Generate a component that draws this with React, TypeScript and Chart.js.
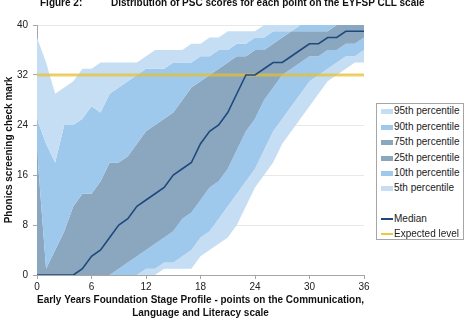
import React, { useEffect, useRef } from "react";
import { Chart, registerables } from "chart.js";

Chart.register(...registerables);

// EYFSP CLL score points (x axis)
const scorePoints = [0, 1, 2, 3, 4, 5, 6, 7, 8, 9, 10, 11, 12, 13, 14, 15, 16, 17, 18, 19, 20, 21, 22, 23, 24, 25, 26, 27, 28, 29, 30, 31, 32, 33, 34, 35, 36];

// PSC mark percentiles at each score point
const p95 = [38, 34, 29, 30, 31, 33, 33, 34, 34, 34, 34, 34, 35, 36, 36, 36, 36, 37, 37, 38, 38, 39, 39, 39, 39, 40, 40, 40, 40, 40, 40, 40, 40, 40, 40, 40, 40];
const p90 = [25, 21, 18, 24, 24, 25, 27, 26, 29, 30, 31, 32, 33, 33, 33, 34, 34, 34, 35, 35, 36, 36, 37, 37, 38, 38, 39, 39, 39, 40, 40, 40, 40, 40, 40, 40, 40];
const p75 = [20, 1, 4, 7, 11, 13, 13, 15, 18, 18, 19, 21, 23, 24, 25, 26, 28, 30, 31, 32, 33, 34, 35, 35, 36, 36, 37, 38, 39, 39, 39, 39, 39, 40, 40, 40, 40];
const median = [0, 0, 0, 0, 0, 1, 3, 4, 6, 8, 9, 11, 12, 13, 14, 16, 17, 18, 21, 23, 24, 26, 29, 32, 32, 33, 34, 34, 35, 36, 37, 37, 38, 38, 39, 39, 39];
const p25 = [0, 0, 0, 0, 0, 0, 0, 0, 0, 1, 2, 3, 4, 5, 6, 7, 9, 10, 12, 14, 15, 17, 20, 23, 25, 28, 30, 32, 33, 34, 35, 35, 36, 36, 37, 37, 38];
const p10 = [0, 0, 0, 0, 0, 0, 0, 0, 0, 0, 0, 0, 1, 1, 2, 2, 3, 4, 6, 7, 9, 11, 13, 15, 17, 20, 23, 25, 27, 29, 31, 32, 33, 34, 35, 35, 36];
const p5 = [0, 0, 0, 0, 0, 0, 0, 0, 0, 0, 0, 0, 0, 0, 1, 1, 1, 1, 3, 4, 5, 6, 8, 11, 14, 16, 18, 21, 23, 25, 27, 29, 31, 32, 33, 34, 34];

const expectedLevel = 32;
const xTicks = [0, 6, 12, 18, 24, 30, 36];
const yTicks = [0, 8, 16, 24, 32, 40];

const LIGHT = "rgb(198,222,243)";
const MED = "rgb(158,201,236)";
const GREY = "rgb(139,167,192)";
const NAVY = "rgb(31,73,125)";
const GOLD = "rgba(232,192,40,0.7)";
const GOLD_SOLID = "rgb(236,200,70)";

const FONT = "'Liberation Sans', Arial, sans-serif";

const legendItems = [
  { label: "95th percentile", color: LIGHT, kind: "box" },
  { label: "90th percentile", color: MED, kind: "box" },
  { label: "75th percentile", color: GREY, kind: "box" },
  { label: "25th percentile", color: GREY, kind: "box" },
  { label: "10th percentile", color: MED, kind: "box" },
  { label: "5th percentile", color: LIGHT, kind: "box" },
  { label: "", color: "transparent", kind: "gap" },
  { label: "Median", color: NAVY, kind: "line" },
  { label: "Expected level", color: GOLD_SOLID, kind: "line" },
];

export default function App() {
  const ref = useRef<HTMLCanvasElement>(null);

  useEffect(() => {
    document.body.style.margin = "0";
    const canvas = ref.current;
    if (!canvas) return;
    const pts = (arr: number[]) => scorePoints.map((x, i) => ({ x, y: arr[i] }));
    const band = (label: string, arr: number[], color: string | null) => ({
      label,
      data: pts(arr),
      borderColor: "transparent",
      borderWidth: 0,
      backgroundColor: color || "transparent",
      pointRadius: 0,
      fill: color ? "+1" : false,
      tension: 0,
      order: 0,
    });
    const chart = new Chart(canvas, {
      type: "line",
      data: {
        datasets: [
          {
            label: "Median",
            data: pts(median),
            borderColor: NAVY,
            borderWidth: 1.6,
            pointRadius: 0,
            fill: false,
            order: -2,
          },
          {
            label: "Expected level",
            data: [
              { x: scorePoints[0], y: expectedLevel },
              { x: scorePoints[scorePoints.length - 1], y: expectedLevel },
            ],
            borderColor: GOLD,
            borderWidth: 3,
            pointRadius: 0,
            fill: false,
            order: -1,
          },
          band("95th percentile", p95, LIGHT),
          band("90th percentile", p90, MED),
          band("75th percentile", p75, GREY),
          band("25th percentile", p25, MED),
          band("10th percentile", p10, LIGHT),
          band("5th percentile", p5, null),
        ] as any,
      },
      options: {
        animation: false,
        responsive: false,
        devicePixelRatio: 1,
        layout: { padding: { top: 25, right: 104, left: 0, bottom: 0 } },
        plugins: { legend: { display: false }, tooltip: { enabled: false } },
        scales: {
          x: {
            type: "linear",
            min: 0,
            max: 36,
            afterFit: (s: any) => {
              s.height = 48;
            },
            afterBuildTicks: (s: any) => {
              s.ticks = xTicks.map((v) => ({ value: v }));
            },
            ticks: { font: { size: 10, family: FONT }, color: "#222", padding: 2, maxRotation: 0 },
            grid: { drawOnChartArea: false, tickLength: 4, tickColor: "#a6a6a6" },
            border: { color: "#a6a6a6" },
            title: {
              display: true,
              text: ["Early Years Foundation Stage Profile - points on the Communication,", "Language and Literacy scale"],
              font: { size: 10, weight: "bold", family: FONT, lineHeight: 1.25 },
              color: "#111",
              padding: { top: 0, bottom: 4 },
            },
          },
          y: {
            min: 0,
            max: 40,
            afterFit: (s: any) => {
              s.width = 37;
            },
            afterBuildTicks: (s: any) => {
              s.ticks = yTicks.map((v) => ({ value: v }));
            },
            ticks: { font: { size: 10, family: FONT }, color: "#222", padding: 5 },
            grid: { color: "#e8e8e8", tickLength: 4, tickColor: "#a6a6a6" },
            border: { color: "#a6a6a6" },
            title: {
              display: true,
              text: "Phonics screening check mark",
              font: { size: 10, weight: "bold", family: FONT },
              color: "#111",
              padding: { top: 3, bottom: 0 },
            },
          },
        },
      } as any,
    });
    return () => chart.destroy();
  }, []);

  const rowTops = [7, 23, 38, 54, 69, 84, 100, 115, 130];

  return (
    <div style={{ position: "relative", width: 468, height: 323, overflow: "hidden", background: "#fff", fontFamily: FONT }}>
      <canvas ref={ref} width={468} height={323} style={{ position: "absolute", left: 0, top: 0 }} />
      <div style={{ position: "absolute", left: 40, top: -2, fontSize: 10, fontWeight: "bold", lineHeight: "10px", color: "#111", whiteSpace: "nowrap" }}>
        Figure 2:
      </div>
      <div style={{ position: "absolute", left: 111, top: -2, fontSize: 10, fontWeight: "bold", lineHeight: "10px", color: "#111", whiteSpace: "nowrap" }}>
        Distribution of PSC scores for each point on the EYFSP CLL scale
      </div>
      <div
        style={{
          position: "absolute",
          left: 376,
          top: 103,
          width: 88,
          height: 137,
          boxSizing: "border-box",
          border: "1px solid #a6a6a6",
          background: "#fff",
        }}
      >
        {legendItems.map((it, i) => (
          <div key={i} style={{ position: "absolute", left: 0, top: rowTops[i] - 7, height: 14, width: 86 }}>
            {it.kind === "box" && (
              <div style={{ position: "absolute", left: 4, top: 4.5, width: 12, height: 5, background: it.color }} />
            )}
            {it.kind === "line" && (
              <div style={{ position: "absolute", left: 4, top: 6, width: 12, height: 1.5, background: it.color }} />
            )}
            <div style={{ position: "absolute", left: 17, top: 0, fontSize: 10, lineHeight: "14px", color: "#222", whiteSpace: "nowrap" }}>
              {it.label}
            </div>
          </div>
        ))}
      </div>
    </div>
  );
}
